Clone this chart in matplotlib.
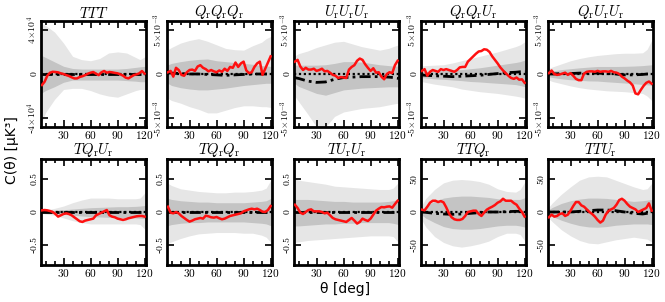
import numpy as np
import matplotlib
matplotlib.use('Agg')
import matplotlib.pyplot as plt
from matplotlib.ticker import MultipleLocator, FixedLocator

plt.rcParams['mathtext.fontset'] = 'cm'

# ---------------- data ----------------
theta = list(range(6, 121, 3))
theta_band = [5, 10, 20, 30, 40, 50, 60, 70, 80, 90, 100, 110, 115, 121]

titles = [r'$TTT$', r'$Q_{\rm r}Q_{\rm r}Q_{\rm r}$', r'$U_{\rm r}U_{\rm r}U_{\rm r}$',
          r'$Q_{\rm r}Q_{\rm r}U_{\rm r}$', r'$Q_{\rm r}U_{\rm r}U_{\rm r}$',
          r'$TQ_{\rm r}U_{\rm r}$', r'$TQ_{\rm r}Q_{\rm r}$', r'$TU_{\rm r}U_{\rm r}$',
          r'$TTQ_{\rm r}$', r'$TTU_{\rm r}$']
units = [1e4, 1e-3, 1e-3, 1e-3, 1e-3, 1, 1, 1, 1, 1]
ylims = [4.8e4, 6e-3, 6e-3, 6e-3, 6e-3, 0.8, 0.8, 0.8, 80, 80]
ytick_vals = [4e4, 5e-3, 5e-3, 5e-3, 5e-3, 0.5, 0.5, 0.5, 50, 50]
ytick_labels = [
    [r'-$4\!\times\!10^{4}$', r'$0$', r'$4\!\times\!10^{4}$'],
    [r'-$5\!\times\!10^{-3}$', r'$0$', r'$5\!\times\!10^{-3}$'],
    [r'-$5\!\times\!10^{-3}$', r'$0$', r'$5\!\times\!10^{-3}$'],
    [r'-$5\!\times\!10^{-3}$', r'$0$', r'$5\!\times\!10^{-3}$'],
    [r'-$5\!\times\!10^{-3}$', r'$0$', r'$5\!\times\!10^{-3}$'],
    [r'-$0.5$', r'$0$', r'$0.5$'],
    [r'-$0.5$', r'$0$', r'$0.5$'],
    [r'-$0.5$', r'$0$', r'$0.5$'],
    [r'-$50$', r'$0$', r'$50$'],
    [r'-$50$', r'$0$', r'$50$'],
]
xtick_labels = [r'$30$', r'$60$', r'$90$', r'$120$']

# red (data) curves, in panel units
red_TTT = [-1.0, -0.7, -0.15, 0.12, 0.2, 0.18, 0.15, 0.06, 0.0, -0.1, -0.18, -0.3, -0.4,
           -0.4, -0.27, -0.2, -0.1, 0.03, 0.12, 0.18, 0.03, -0.1, 0.15, 0.27, 0.12, 0.18,
           0.15, 0.1, 0.06, -0.03, -0.15, -0.33, -0.4, -0.25, -0.1, -0.03, 0.06, 0.27, 0.03]
red_QQQ = [0.2, 0.35, -0.3, 0.7, 0.45, -0.1, -0.2, 0.2, 0.45, 0.5, 0.35, 0.85, 1.0, 0.7,
           0.55, 0.3, 0.45, 0.3, 0.2, 0.4, 0.25, 0.6, 0.35, 0.8, 0.7, 1.3, 0.8, 1.2, 1.4,
           0.4, 0.1, 0.2, 0.8, 1.2, 1.4, -0.1, 0.6, 1.3, 2.0]
red_UUU = [1.4, 1.6, 0.85, 0.45, 0.7, 0.5, 0.5, 0.6, 0.35, 0.45, 0.6, 0.3, 0.35, 0.15,
           -0.1, -0.2, -0.45, -0.35, -0.4, -0.45, 0.5, 0.8, 1.0, 1.5, 1.75, 1.6, 1.1, 0.7,
           0.35, 0.65, 0.15, 0.2, -0.3, -0.6, 0.0, 0.2, 0.1, 1.0, 1.5]
red_QQU = [0.35, 0.55, -0.2, 0.25, 0.45, 0.35, 0.25, 0.55, 0.45, 0.55, 0.45, 0.35, 0.25,
           0.45, 0.75, 0.8, 0.8, 1.4, 1.7, 2.0, 2.3, 2.55, 2.6, 2.8, 2.75, 2.5, 2.0, 1.6,
           1.2, 0.75, 0.4, 0.1, -0.2, -0.45, -0.55, -0.4, -0.65, -0.6, -1.0]
red_QUU = [0.1, 0.4, 0.0, -0.1, -0.05, 0.05, 0.15, -0.1, 0.1, -0.2, -0.55, -0.7, -0.7,
           0.05, 0.25, 0.3, 0.3, 0.25, 0.35, 0.25, 0.3, 0.3, 0.25, 0.35, 0.2, 0.15, 0.0,
           -0.3, -0.5, -0.75, -0.95, -1.3, -2.2, -2.3, -1.8, -1.35, -1.0, -0.85, -1.1]
red_TQU = [0.025, 0.03, 0.025, 0.015, 0.0, -0.03, -0.07, -0.05, -0.03, -0.02, -0.03,
           -0.05, -0.08, -0.11, -0.14, -0.15, -0.13, -0.12, -0.11, -0.1, -0.05, -0.03,
           -0.01, 0.01, 0.03, -0.05, -0.07, -0.08, -0.1, -0.11, -0.12, -0.11, -0.095,
           -0.085, -0.075, -0.065, -0.06, -0.06, -0.07]
red_TQQ = [0.08, -0.01, -0.02, 0.0, -0.02, -0.06, -0.09, -0.12, -0.145, -0.13, -0.11,
           -0.1, -0.09, -0.1, -0.055, -0.065, -0.08, -0.085, -0.075, -0.095, -0.11, -0.1,
           -0.08, -0.06, -0.05, -0.04, -0.03, -0.02, 0.01, 0.025, 0.04, 0.05, 0.04, 0.05,
           0.03, 0.005, 0.0, 0.03, 0.09]
red_TUU = [0.11, 0.06, -0.01, -0.03, 0.0, 0.03, 0.04, 0.01, 0.01, 0.01, 0.0, -0.02,
           -0.01, -0.05, -0.09, -0.11, -0.12, -0.13, -0.14, -0.15, -0.12, -0.09, -0.13,
           -0.175, -0.15, -0.1, -0.12, -0.135, -0.1, -0.04, 0.02, 0.05, 0.075, 0.07, 0.08,
           0.085, 0.065, 0.12, 0.17]
red_TTQ = [3.5, 2.5, 8, 14, 17, 17, 15, 16.5, 14.5, 7, -2, -8, -11, -12, -12, -10.5, -6,
           0, 1, 2, 2, -3, -6, -1, 3.5, 6, 8, 10.5, 14, 16, 20, 17, 17, 17, 13.5, 11, 5,
           0, -7]
red_TTU = [-8, -4, -7, -6, -3, -2, -6, -4, 2, 9, 15, 15, 10, 8, 4, 0, -3, -7, -12, -16,
           -13, -4, 1.5, 4, 6, 11, 18, 20, 17, 12, 8, 6, 4, 0, 2, 4, 6, 13, 2]

# simulation bands (outer = 2 sigma, inner = 1 sigma) and simulation mean
ohi_TTT = [4.6, 4.4, 3.8, 2.8, 1.6, 1.3, 1.2, 1.4, 1.9, 2.0, 1.9, 1.5, 1.3, 1.6]
olo_TTT = [-4.6, -3.5, -2.3, -1.4, -1.3, -1.3, -1.5, -1.8, -2.0, -2.1, -1.8, -1.5, -1.4, -1.4]
ihi_TTT = [1.7, 1.5, 1.1, 0.7, 0.5, 0.45, 0.45, 0.45, 0.45, 0.45, 0.5, 0.6, 0.65, 0.7]
ilo_TTT = [-1.75, -1.5, -1.15, -0.75, -0.55, -0.55, -0.55, -0.55, -0.55, -0.55, -0.6, -0.65, -0.7, -0.7]
mean_TTT = [0.0, 0.0, 0.0, 0.0, 0.0, 0.0, 0.0, 0.0, 0.0, 0.0, 0.0, 0.0, 0.0, 0.0]

ohi_QQQ = [2.7, 3.0, 3.5, 3.8, 4.0, 3.7, 3.3, 2.9, 2.75, 2.7, 3.2, 3.6, 4.0, 4.3]
olo_QQQ = [-2.7, -3.0, -3.3, -3.7, -4.0, -4.4, -4.4, -4.1, -3.8, -3.6, -3.6, -3.7, -3.7, -3.8]
ihi_QQQ = [1.0, 1.2, 1.4, 1.55, 1.65, 1.7, 1.5, 1.4, 1.3, 1.2, 1.1, 0.95, 0.9, 0.85]
ilo_QQQ = [-1.0, -1.3, -1.55, -1.7, -1.8, -1.8, -1.7, -1.6, -1.45, -1.3, -1.2, -1.1, -1.05, -1.05]
mean_QQQ = [0.15, 0.1, 0.05, 0.0, 0.0, -0.05, -0.1, -0.15, -0.1, -0.05, 0.0, 0.0, 0.0, 0.0]

ohi_UUU = [2.0, 2.3, 2.6, 3.0, 3.3, 3.6, 3.7, 3.4, 3.1, 2.9, 2.7, 2.9, 3.1, 3.3]
olo_UUU = [-2.4, -3.1, -4.5, -6.0, -6.0, -4.8, -4.3, -4.1, -3.9, -3.8, -3.7, -3.5, -3.4, -3.3]
ihi_UUU = [1.0, 1.0, 1.0, 1.0, 1.05, 1.2, 1.4, 1.4, 1.35, 1.2, 1.05, 0.95, 0.9, 0.9]
ilo_UUU = [-1.0, -1.4, -1.8, -2.2, -2.4, -2.1, -1.8, -1.7, -1.6, -1.55, -1.5, -1.45, -1.45, -1.45]
mean_UUU = [-0.4, -0.5, -0.8, -0.95, -0.9, -0.6, -0.4, -0.35, -0.3, -0.3, -0.3, -0.35, -0.4, -0.5]

ohi_QQU = [0.9, 0.95, 1.0, 1.05, 1.25, 1.5, 1.75, 2.0, 2.25, 2.5, 2.8, 3.1, 3.3, 3.7]
olo_QQU = [-0.85, -0.95, -1.15, -1.3, -1.45, -1.7, -1.85, -2.0, -2.1, -2.2, -2.35, -2.5, -2.6, -2.75]
ihi_QQU = [0.25, 0.28, 0.35, 0.4, 0.45, 0.5, 0.6, 0.7, 0.85, 1.0, 1.15, 1.3, 1.4, 1.6]
ilo_QQU = [-0.4, -0.45, -0.55, -0.6, -0.68, -0.75, -0.85, -0.9, -0.98, -1.05, -1.12, -1.2, -1.3, -1.45]
mean_QQU = [-0.1, -0.15, -0.2, -0.25, -0.3, -0.25, -0.2, -0.15, -0.05, 0.05, 0.15, 0.2, 0.25, 0.25]

ohi_QUU = [0.6, 0.8, 1.15, 1.5, 1.75, 1.95, 2.1, 2.2, 2.3, 2.35, 2.35, 2.4, 2.8, 4.0]
olo_QUU = [-0.65, -0.85, -1.1, -1.35, -1.55, -1.7, -1.8, -1.9, -1.95, -2.0, -2.1, -2.2, -2.5, -3.1]
ihi_QUU = [0.25, 0.35, 0.5, 0.6, 0.7, 0.78, 0.85, 0.85, 0.85, 0.87, 0.9, 0.95, 1.0, 1.05]
ilo_QUU = [-0.3, -0.4, -0.55, -0.65, -0.72, -0.78, -0.8, -0.88, -0.95, -1.02, -1.1, -1.18, -1.22, -1.28]
mean_QUU = [0.0, 0.0, 0.05, 0.05, 0.1, 0.1, 0.1, 0.05, 0.0, -0.1, -0.1, -0.05, 0.0, 0.0]

ohi_TQU = [0.02, 0.03, 0.055, 0.09, 0.14, 0.18, 0.21, 0.21, 0.21, 0.2, 0.2, 0.2, 0.21, 0.3]
olo_TQU = [-0.02, -0.03, -0.05, -0.09, -0.13, -0.16, -0.18, -0.18, -0.18, -0.18, -0.18, -0.18, -0.19, -0.27]
ihi_TQU = [0.01, 0.015, 0.025, 0.035, 0.045, 0.055, 0.065, 0.07, 0.075, 0.08, 0.08, 0.085, 0.09, 0.1]
ilo_TQU = [-0.01, -0.015, -0.02, -0.035, -0.05, -0.06, -0.07, -0.075, -0.08, -0.085, -0.085, -0.09, -0.095, -0.1]
mean_TQU = [0.0, 0.0, 0.0, 0.0, 0.0, 0.0, 0.0, 0.0, 0.0, 0.0, 0.0, 0.0, 0.0, 0.0]

ohi_TQQ = [0.44, 0.4, 0.35, 0.33, 0.31, 0.3, 0.29, 0.29, 0.3, 0.3, 0.31, 0.33, 0.36, 0.5]
olo_TQQ = [-0.48, -0.45, -0.4, -0.36, -0.33, -0.32, -0.31, -0.31, -0.31, -0.32, -0.32, -0.35, -0.38, -0.47]
ihi_TQQ = [0.21, 0.19, 0.17, 0.16, 0.15, 0.15, 0.14, 0.14, 0.14, 0.14, 0.15, 0.16, 0.17, 0.21]
ilo_TQQ = [-0.21, -0.19, -0.17, -0.16, -0.16, -0.15, -0.15, -0.15, -0.15, -0.15, -0.16, -0.17, -0.18, -0.21]
mean_TQQ = [0.0, 0.0, 0.0, 0.0, 0.0, 0.0, 0.0, 0.0, 0.0, 0.0, 0.0, 0.0, 0.0, 0.0]

ohi_TUU = [0.5, 0.48, 0.46, 0.44, 0.42, 0.39, 0.38, 0.37, 0.36, 0.35, 0.34, 0.34, 0.36, 0.45]
olo_TUU = [-0.46, -0.45, -0.43, -0.42, -0.41, -0.4, -0.39, -0.38, -0.37, -0.36, -0.36, -0.36, -0.37, -0.46]
ihi_TUU = [0.19, 0.19, 0.19, 0.18, 0.17, 0.16, 0.16, 0.15, 0.15, 0.15, 0.15, 0.16, 0.17, 0.19]
ilo_TUU = [-0.21, -0.21, -0.2, -0.19, -0.18, -0.18, -0.17, -0.17, -0.16, -0.16, -0.16, -0.16, -0.17, -0.19]
mean_TUU = [0.0, 0.0, 0.0, 0.0, 0.0, 0.0, 0.0, 0.0, 0.0, 0.0, 0.0, 0.0, 0.0, 0.0]

ohi_TTQ = [8, 20, 34, 44, 48, 49, 48, 46, 42, 35, 31, 30, 34, 47]
olo_TTQ = [-10, -22, -37, -46, -51, -53, -51, -48, -44, -37, -32, -32, -34, -45]
ihi_TTQ = [3, 9, 16, 21, 23, 24, 24, 23, 22, 20, 19, 19, 19, 22]
ilo_TTQ = [-3.5, -9, -16, -22, -25, -26, -26, -25, -23, -21, -20, -20, -21, -23]
mean_TTQ = [0, -0.5, -2, -3, -3.5, -3, -2, -1, 0, 0, 0.5, 1, 1, 1]

ohi_TTU = [6, 14, 27, 38, 48, 53, 54, 53, 48, 43, 38, 34, 35, 45]
olo_TTU = [-8, -15, -27, -36, -43, -47, -48, -45, -42, -40, -38, -40, -41, -46]
ihi_TTU = [3, 7, 13, 17, 19.5, 21, 21, 20.5, 19, 17.5, 16, 17, 18, 19]
ilo_TTU = [-3, -7, -12.5, -17, -20.5, -22.5, -23, -22, -20, -19, -18, -18, -18, -19]
mean_TTU = [0, 0, 0, 0, 1, 2, 3, 3, 2, 0, -2, -3, -2, 0]

reds = [red_TTT, red_QQQ, red_UUU, red_QQU, red_QUU, red_TQU, red_TQQ, red_TUU, red_TTQ, red_TTU]
ohis = [ohi_TTT, ohi_QQQ, ohi_UUU, ohi_QQU, ohi_QUU, ohi_TQU, ohi_TQQ, ohi_TUU, ohi_TTQ, ohi_TTU]
olos = [olo_TTT, olo_QQQ, olo_UUU, olo_QQU, olo_QUU, olo_TQU, olo_TQQ, olo_TUU, olo_TTQ, olo_TTU]
ihis = [ihi_TTT, ihi_QQQ, ihi_UUU, ihi_QQU, ihi_QUU, ihi_TQU, ihi_TQQ, ihi_TUU, ihi_TTQ, ihi_TTU]
ilos = [ilo_TTT, ilo_QQQ, ilo_UUU, ilo_QQU, ilo_QUU, ilo_TQU, ilo_TQQ, ilo_TUU, ilo_TTQ, ilo_TTU]
means = [mean_TTT, mean_QQQ, mean_UUU, mean_QQU, mean_QUU, mean_TQU, mean_TQQ, mean_TUU, mean_TTQ, mean_TTU]

# ---------------- figure ----------------
W, H = 665, 302
fig = plt.figure(figsize=(W / 100, H / 100), dpi=100)

lefts = [41, 167, 294, 421, 548]
tops = [21, 159]
pw, ph = 105, 106

for i in range(10):
    r, c = divmod(i, 5)
    ax = fig.add_axes([lefts[c] / W, 1 - (tops[r] + ph) / H, pw / W, ph / H])
    u = units[i]
    tb = np.array(theta_band)
    ax.fill_between(tb, np.array(olos[i]) * u, np.array(ohis[i]) * u,
                    color='#e6e6e6', lw=0, zorder=1)
    ax.fill_between(tb, np.array(ilos[i]) * u, np.array(ihis[i]) * u,
                    color='#c4c4c4', lw=0, zorder=2)
    ax.axhline(0, color='black', lw=1.6, ls=(0, (1, 1.2)), zorder=3)
    ax.plot(tb, np.array(means[i]) * u, color='black', lw=2.0,
            ls=(0, (4, 1.5, 1, 1.5)), zorder=4)
    ax.plot(theta, np.array(reds[i]) * u, color='#ff1010', lw=1.8, zorder=5)

    ax.set_xlim(5, 121.5)
    yl = ylims[i]
    ax.set_ylim(-yl, yl)
    ax.xaxis.set_major_locator(FixedLocator([30, 60, 90, 120]))
    ax.xaxis.set_minor_locator(MultipleLocator(10))
    ax.set_xticklabels(xtick_labels, fontsize=8.2)
    tv = ytick_vals[i]
    ax.yaxis.set_major_locator(FixedLocator([-tv, 0, tv]))
    ax.set_yticklabels(ytick_labels[i], fontsize=7, rotation=90, va='center')
    ax.tick_params(which='both', direction='in', top=True, right=True, width=1.2)
    ax.tick_params(which='major', length=5)
    ax.tick_params(which='minor', length=3)
    ax.tick_params(axis='y', pad=1.5)
    ax.tick_params(axis='x', pad=1.5)
    for s in ax.spines.values():
        s.set_linewidth(2.0)
    ax.set_title(titles[i], fontsize=10.5, pad=1)

fig.text(12 / W, 1 - 150 / H, 'C(θ) [μK³]', rotation=90,
         ha='center', va='center', fontsize=10, family='DejaVu Sans')
fig.text(345 / W, 1 - 289 / H, 'θ [deg]', ha='center', va='center', fontsize=10,
         family='DejaVu Sans')

fig.savefig('out.png', dpi=100)
